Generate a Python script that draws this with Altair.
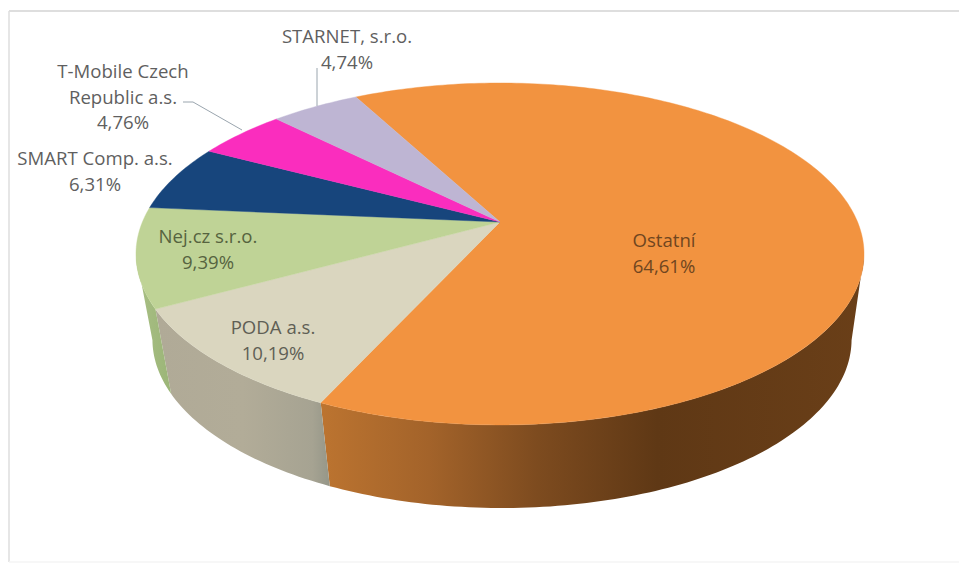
import math
import altair as alt

names = ["Ostatní", "PODA a.s.", "Nej.cz s.r.o.", "SMART Comp. a.s.", "T-Mobile Czech Republic a.s.", "STARNET, s.r.o."]
shares = [64.61, 10.19, 9.39, 6.31, 4.76, 4.74]
top_colors = ["#F29340", "#DAD6BF", "#BFD396", "#17457C", "#FA2DBE", "#BEB5D3"]

label_lines = ["Ostatní\n64,61%", "PODA a.s.\n10,19%", "Nej.cz s.r.o.\n9,39%", "SMART Comp. a.s.\n6,31%",
               "T-Mobile Czech\nRepublic a.s.\n4,76%", "STARNET, s.r.o.\n4,74%"]
label_colors = ["#70461F", "#5F5F55", "#56633F", "#5F5F5F", "#5F5F5F", "#5F5F5F"]
label_x = [656, 265, 200, 87, 115, 339]
label_y = [233, 320, 229, 151, 64, 29]

# Perspective of the disc (chart coordinates = page coordinates - 8)
CX, CY, R, S, K = 492.0, 214.0, 357.6, 165.0, 0.187
CX2, CY2, R2, S2 = 494.0, 300.0, 343.4, 162.6
START = -28.0
SIL_R, SIL_L = 101.0, 259.0

side_stops = {
    0: [(0, "#BC7430"), (0.2, "#A3632A"), (0.4, "#7D4B1F"), (0.62, "#5F3815"), (1, "#6A3F18")],
    1: [(0, "#B0AA97"), (0.5, "#B2AC98"), (0.9, "#A6A392"), (1, "#959688")],
    2: [(0, "#A9BF85"), (1, "#9BB577")],
}


def pt(t, lower=False):
    a = math.radians(t)
    u, v = math.sin(a), -math.cos(a)
    w = 1 - K * v
    if lower:
        return [CX2 + R2 * u / w, CY2 + S2 * v / w]
    return [CX + R * u / w, CY + S * v / w]


def arc(t0, t1, lower=False):
    n = max(2, int(abs(t1 - t0)))
    return [pt(t0 + (t1 - t0) * i / n, lower) for i in range(n + 1)]


def feat(geom_type, coords):
    return {"type": "Feature", "geometry": {"type": geom_type, "coordinates": coords}, "properties": {}}


edges = [START]
for s in shares:
    edges.append(edges[-1] + s * 3.6)

layers = []

# frame
for line, col, wd in [([[1, 3], [951, 3]], "#DEDEDE", 2), ([[1, 3], [1, 554]], "#DEDEDE", 1.5),
                      ([[1, 554], [951, 554]], "#F4F4F4", 1.5)]:
    layers.append(alt.Chart(alt.Data(values=[feat("LineString", line)])).mark_geoshape(
        filled=False, stroke=col, strokeWidth=wd))

# sides
side_ranges = {0: (SIL_R, edges[1]), 1: (edges[1], edges[2]), 2: (edges[2], SIL_L)}
for i, (a, b) in side_ranges.items():
    poly = arc(a, b) + arc(b, a, True)
    poly.append(poly[0])
    grad = alt.LinearGradient(gradient="linear", x1=1 if i == 0 else 0, x2=0 if i == 0 else 1, y1=0, y2=0,
                              stops=[alt.GradientStop(offset=1 - o, color=c)
                                     for o, c in reversed(side_stops[i])] if i == 0 else
                              [alt.GradientStop(offset=o, color=c) for o, c in side_stops[i]])
    layers.append(alt.Chart(alt.Data(values=[feat("Polygon", [poly])])).mark_geoshape(
        fill=grad, strokeWidth=0))

# top faces
for i in range(len(shares)):
    poly = [[CX, CY]] + arc(edges[i], edges[i + 1]) + [[CX, CY]]
    layers.append(alt.Chart(alt.Data(values=[feat("Polygon", [poly])])).mark_geoshape(
        fill=top_colors[i], stroke=top_colors[i], strokeWidth=0.4))

# leader lines
for line in ([[175, 94], [185, 94], [234, 122]], [[309, 60], [309, 98]]):
    layers.append(alt.Chart(alt.Data(values=[feat("LineString", line)])).mark_geoshape(
        filled=False, stroke="#9AA5AE", strokeWidth=1))

# labels
rows = [{"lon": x, "lat": y, "t": t, "c": c} for x, y, t, c in zip(label_x, label_y, label_lines, label_colors)]
layers.append(alt.Chart(alt.Data(values=rows)).mark_text(
    font="Open Sans", fontSize=18.6, lineBreak="\n", lineHeight=25.5, baseline="middle", align="center"
).encode(longitude="lon:Q", latitude="lat:Q", text="t:N", color=alt.Color("c:N", scale=None)))

chart = alt.layer(*layers).properties(
    width=951, height=555, padding=0,
    projection=alt.Projection(type="identity", scale=1, translate=[0, 0]),
).configure_view(strokeWidth=0)

chart.save("out.html", embed_options={"renderer": "svg", "actions": False})
